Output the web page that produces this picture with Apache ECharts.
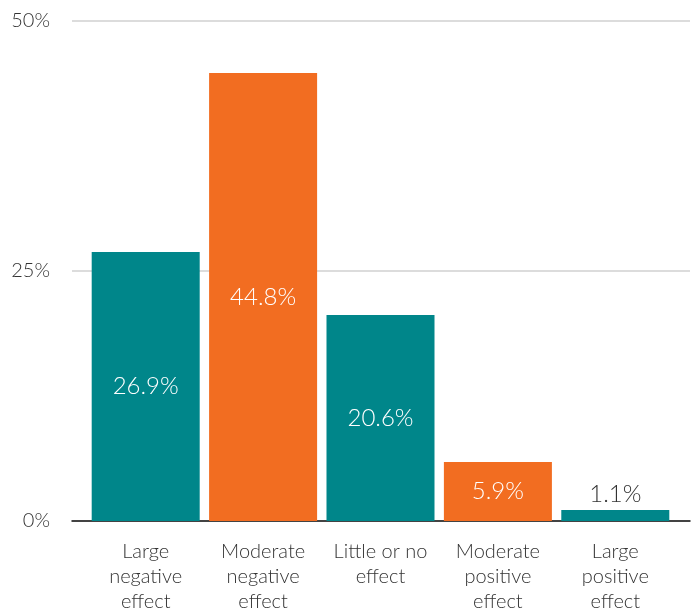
<!DOCTYPE html>
<html>
<head>
<meta charset="utf-8">
<script src="https://cdn.jsdelivr.net/npm/echarts@6/dist/echarts.min.js"></script>
<style>
  html, body { margin: 0; padding: 0; background: #fff; }
  #chart { width: 695px; height: 610px; }
</style>
</head>
<body>
<div id="chart"></div>
<script>
const categories = [
  "Large\nnegative\neffect",
  "Moderate\nnegative\neffect",
  "Little or no\neffect",
  "Moderate\npositive\neffect",
  "Large\npositive\neffect",
];
const shares = [26.9, 44.8, 20.6, 5.9, 1.1];
const barColors = ["#00868a", "#f26d21", "#00868a", "#f26d21", "#00868a"];
const yTicks = [0, 25, 50];

const font = "Lato";
const chart = echarts.init(document.getElementById("chart"));

chart.setOption({
  animation: false,
  textStyle: { fontFamily: font },
  grid: [
    { left: 72, right: 5, top: 21, bottom: 89, outerBoundsMode: "none" },
    { left: 87, right: 21, top: 21, bottom: 89, outerBoundsMode: "none" },
  ],
  xAxis: [
    {
      gridIndex: 0,
      type: "value",
      min: 0,
      max: 1,
      axisLine: { show: true, lineStyle: { color: "#111", width: 1.5 } },
      axisTick: { show: false },
      axisLabel: { show: false },
      splitLine: { show: false },
    },
    {
      gridIndex: 1,
      type: "category",
      data: categories,
      axisLine: { show: false },
      axisTick: { show: false },
      axisLabel: {
        color: "#333",
        fontSize: 20,
        fontWeight: 300,
        lineHeight: 25,
        margin: 18,
        interval: 0,
      },
    },
  ],
  yAxis: [
    {
      gridIndex: 0,
      type: "value",
      min: 0,
      max: 50,
      interval: 25,
      axisLine: { show: false },
      axisTick: { show: false },
      axisLabel: {
        color: "#333",
        fontSize: 20,
        fontWeight: 300,
        margin: 22,
        formatter: (v) => (yTicks.includes(v) ? v + "%" : ""),
      },
      splitLine: { lineStyle: { color: "#d0d0d0", width: 1.5 } },
    },
    {
      gridIndex: 1,
      type: "value",
      min: 0,
      max: 50,
      show: false,
    },
  ],
  series: [
    {
      type: "bar",
      xAxisIndex: 1,
      yAxisIndex: 1,
      barCategoryGap: "8%",
      z: 1,
      data: shares.map((v, i) => ({
        value: v,
        itemStyle: { color: barColors[i] },
        label: v < 3
          ? { position: "top", color: "#333", distance: 4 }
          : { position: "inside", color: "#fff" },
      })),
      label: {
        show: true,
        fontSize: 24,
        fontWeight: 300,
        formatter: (p) => p.value.toFixed(1) + "%",
      },
    },
  ],
});
</script>
</body>
</html>
